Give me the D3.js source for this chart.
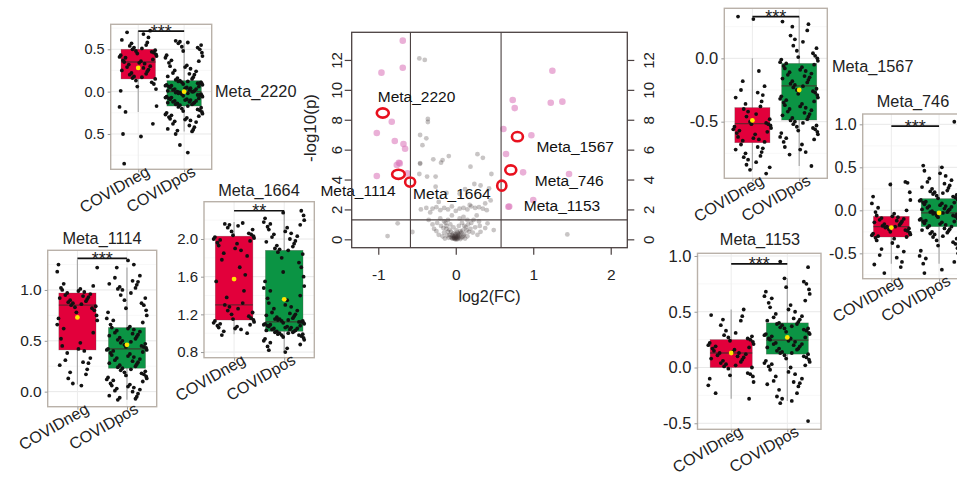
<!DOCTYPE html>
<html><head><meta charset="utf-8">
<script src="https://cdn.jsdelivr.net/npm/d3@7"></script>
<style>body{margin:0;background:#fff}svg{display:block;font-family:"Liberation Sans",Arial,sans-serif}</style>
</head><body><svg id="c" width="957" height="477"></svg>
<script>
// ---------------- DATA ----------------
const groups = ["COVIDneg", "COVIDpos"];
const metabolites = ["Meta_2220", "Meta_1114", "Meta_1664", "Meta_1567", "Meta_746", "Meta_1153"];
const stars = ["***", "***", "**", "***", "***", "***"];
// box statistics per metabolite
const q1Neg   = [0.15, 0.41, 1.14, -0.666, -0.31, 0.00];
const medNeg  = [0.35, 0.85, 1.30, -0.516, -0.19, 0.13];
const q3Neg   = [0.50, 0.97, 2.03, -0.389, -0.07, 0.25];
const loNeg   = [-0.24, 0.07, 0.99, -0.88, -0.62, -0.28];
const hiNeg   = [0.72, 1.30, 2.18, 0.00, 0.33, 0.52];
const meanNeg = [0.28, 0.73, 1.575, -0.49, -0.20, 0.13];
const q1Pos   = [-0.17, 0.23, 1.02, -0.487, -0.19, 0.12];
const medPos  = [0.00, 0.42, 1.12, -0.218, -0.03, 0.246];
const q3Pos   = [0.13, 0.63, 1.88, -0.04, 0.136, 0.40];
const loPos   = [-0.47, -0.08, 0.80, -0.85, -0.62, -0.30];
const hiPos   = [0.57, 1.22, 2.30, 0.33, 0.52, 0.80];
const meanPos = [0.00, 0.46, 1.36, -0.25, -0.03, 0.27];
const sigY    = [0.715, 1.31, 2.30, 0.33, 0.98, 0.93];
const tickVals = [[0.5, 0, -0.5], [1, 0.5, 0], [2.0, 1.6, 1.2, 0.8], [0, -0.5], [1, 0.5, 0, -0.5], [1, 0.5, 0, -0.5]];
const tickLabels = [["0.5", "0.0", "0.5"], ["1.0", "0.5", "0.0"], ["2.0", "1.6", "1.2", "0.8"], ["0.0", "-0.5"], ["1.0", "0.5", "0.0", "-0.5"], ["1.0", "0.5", "0.0", "-0.5"]];

// individual sample values (jittered points)
const neg2220 = [0.72,0.70,0.68,0.64,0.61,0.58,0.57,0.55,0.54,0.52,0.51,0.50,0.49,0.48,0.47,0.46,0.45,0.44,0.43,0.42,0.41,0.40,0.38,0.37,0.36,0.35,0.34,0.33,0.32,0.30,0.29,0.28,0.26,0.25,0.24,0.22,0.21,0.20,0.18,0.17,0.16,0.15,0.13,0.11,0.09,0.06,0.03,0.01,-0.17,-0.18,-0.24,-0.38,-0.50,-0.53,-0.85];
const pos2220 = [0.60,0.59,0.58,0.57,0.55,0.53,0.52,0.50,0.48,0.46,0.43,0.42,0.40,0.37,0.36,0.34,0.31,0.30,0.29,0.27,0.25,0.24,0.22,0.21,0.20,0.18,0.17,0.16,0.15,0.14,
 0.13,0.12,0.12,0.11,0.11,0.10,0.10,0.09,0.09,0.08,0.08,0.07,0.07,0.06,0.06,0.05,0.05,0.04,0.04,0.03,0.03,0.02,0.02,0.01,0.01,0.00,0.00,0.00,-0.01,-0.01,-0.02,-0.02,-0.03,-0.03,-0.04,-0.04,-0.05,-0.05,-0.06,-0.06,-0.07,-0.07,-0.08,-0.08,-0.09,-0.09,-0.10,-0.10,-0.11,-0.11,-0.12,-0.12,-0.13,-0.13,-0.14,-0.14,-0.15,-0.15,-0.16,-0.17,
 -0.18,-0.19,-0.20,-0.21,-0.22,-0.23,-0.24,-0.25,-0.26,-0.27,-0.28,-0.29,-0.30,-0.31,-0.32,-0.33,-0.34,-0.35,-0.36,-0.38,-0.40,-0.42,-0.44,-0.45,-0.46,-0.47,-0.50,-0.63,-0.72];
const neg1114 = [1.25,1.22,1.18,1.06,1.04,1.02,1.01,1.00,0.99,0.98,0.97,0.96,0.95,0.94,0.93,0.92,0.91,0.90,0.89,0.88,0.87,0.86,0.85,0.84,0.83,0.82,0.80,0.78,0.75,0.72,0.70,0.66,0.62,0.58,0.52,0.48,0.45,0.42,0.40,0.38,0.33,0.31,0.29,0.28,0.26,0.22,0.19,0.17,0.13,0.08,0.06];
const pos1114 = [1.29,1.25,1.22,1.14,1.12,1.09,1.08,1.06,1.05,1.03,1.02,1.01,1.00,0.97,0.95,0.92,0.90,0.87,0.85,0.82,0.80,0.78,0.75,0.72,0.70,0.68,0.66,0.64,
 0.63,0.62,0.61,0.60,0.59,0.58,0.57,0.56,0.55,0.54,0.53,0.52,0.51,0.50,0.49,0.48,0.47,0.46,0.45,0.44,0.44,0.43,0.42,0.41,0.41,0.40,0.39,0.38,0.37,0.36,0.35,0.34,0.33,0.32,0.31,0.30,0.29,0.28,0.27,0.26,0.25,0.24,0.23,
 0.22,0.21,0.20,0.19,0.18,0.17,0.16,0.15,0.14,0.13,0.12,0.11,0.10,0.08,0.07,0.06,0.05,0.04,0.03,0.02,0.01,0.00,-0.02,-0.04,-0.05,-0.06,-0.07,-0.08];
const neg1664 = [2.17,2.16,2.15,2.14,2.12,2.10,2.08,2.06,2.05,2.04,2.03,2.02,2.01,2.00,1.99,1.98,1.96,1.95,1.93,1.90,1.88,1.85,1.82,1.78,1.70,1.62,1.55,1.45,1.38,1.32,1.30,1.28,1.26,1.24,1.22,1.20,1.18,1.16,1.15,1.14,1.13,1.12,1.11,1.10,1.09,1.08,1.07,1.06,1.05,1.04,1.02,1.00,0.98];
const pos1664 = [2.30,2.28,2.25,2.22,2.20,2.18,2.16,2.15,2.13,2.12,2.10,2.08,2.06,2.05,2.03,2.02,2.00,1.98,1.97,1.95,1.93,1.92,1.90,1.89,1.88,1.86,1.84,1.80,1.75,1.70,1.65,1.60,1.55,1.50,1.48,1.45,1.40,1.37,1.35,1.32,1.30,1.28,1.26,1.24,1.22,1.21,1.20,1.19,1.18,1.17,1.16,1.15,1.15,1.14,1.14,1.13,1.13,1.12,1.12,1.11,1.11,1.10,1.10,1.09,1.09,1.08,1.08,1.07,1.07,1.06,1.06,1.05,1.05,1.04,1.04,1.03,1.03,1.02,1.02,1.01,1.01,1.00,1.00,0.99,0.99,0.98,0.98,0.97,0.96,0.95,0.94,0.93,0.92,0.90,0.88,0.86,0.84,0.82,0.80];
const neg1567 = [0.33,0.31,-0.10,-0.18,-0.22,-0.25,-0.27,-0.29,-0.31,-0.34,-0.36,-0.38,-0.40,-0.42,-0.44,-0.46,-0.48,-0.50,-0.51,-0.52,-0.52,-0.53,-0.54,-0.55,-0.56,-0.57,-0.58,-0.59,-0.60,-0.62,-0.63,-0.64,-0.65,-0.66,-0.68,-0.70,-0.71,-0.72,-0.74,-0.75,-0.77,-0.78,-0.80,-0.82,-0.84,-0.86,-0.88,-0.91];
const pos1567 = [0.29,0.27,0.25,0.22,0.18,0.15,0.13,0.10,0.08,0.06,0.04,0.02,0.01,0.00,-0.01,-0.02,-0.03,-0.04,-0.05,-0.06,-0.07,-0.08,-0.09,-0.10,-0.11,-0.12,-0.13,-0.14,-0.15,-0.16,-0.17,-0.18,-0.19,-0.20,-0.21,-0.22,-0.23,-0.24,-0.25,-0.26,-0.27,-0.28,-0.29,-0.30,-0.31,-0.32,-0.33,-0.34,-0.35,-0.36,-0.37,-0.38,-0.39,-0.40,-0.41,-0.42,-0.43,-0.44,-0.45,-0.46,-0.47,-0.48,-0.49,-0.50,-0.51,-0.52,-0.53,-0.54,-0.55,-0.56,-0.57,-0.58,-0.59,-0.60,-0.62,-0.63,-0.64,-0.66,-0.68,-0.70,-0.72,-0.74,-0.76,-0.85];
const neg746 = [0.33,0.32,0.30,0.21,0.16,0.12,0.08,0.03,0.00,-0.02,-0.04,-0.06,-0.07,-0.08,-0.09,-0.10,-0.11,-0.12,-0.13,-0.14,-0.15,-0.16,-0.17,-0.18,-0.19,-0.19,-0.20,-0.21,-0.22,-0.23,-0.24,-0.25,-0.26,-0.27,-0.28,-0.29,-0.30,-0.31,-0.32,-0.33,-0.35,-0.38,-0.42,-0.45,-0.48,-0.52,-0.55,-0.60,-0.63,-0.66,-0.73];
const pos746 = [1.03,0.52,0.50,0.46,0.43,0.40,0.37,0.35,0.33,0.31,0.29,0.27,0.26,0.25,0.23,0.22,0.21,0.20,0.19,0.18,0.17,0.16,0.15,0.14,
 0.13,0.12,0.12,0.11,0.10,0.09,0.09,0.08,0.07,0.06,0.05,0.05,0.04,0.03,0.02,0.01,0.01,0.00,-0.01,-0.02,-0.02,-0.03,-0.03,-0.04,-0.05,-0.06,-0.06,-0.07,-0.08,-0.09,-0.10,-0.10,-0.11,-0.12,-0.13,-0.13,-0.14,-0.15,-0.16,-0.17,-0.18,-0.19,
 -0.20,-0.21,-0.22,-0.23,-0.24,-0.25,-0.26,-0.27,-0.28,-0.30,-0.31,-0.33,-0.35,-0.37,-0.39,-0.41,-0.44,-0.47,-0.50,-0.53,-0.56,-0.60,-0.62,-0.69,-0.73];
const neg1153 = [0.52,0.47,0.46,0.43,0.42,0.38,0.33,0.31,0.29,0.28,0.27,0.26,0.25,0.24,0.23,0.22,0.21,0.20,0.19,0.18,0.17,0.16,0.15,0.14,0.13,0.13,0.12,0.11,0.10,0.09,0.08,0.07,0.06,0.05,0.04,0.03,0.02,0.01,0.00,-0.01,-0.05,-0.06,-0.07,-0.08,-0.10,-0.13,-0.16,-0.23,-0.28];
const pos1153 = [0.95,0.90,0.80,0.77,0.75,0.72,0.70,0.68,0.66,0.64,0.62,0.60,0.58,0.56,0.54,0.52,0.50,0.48,0.46,0.45,0.44,0.43,0.42,0.41,
 0.40,0.39,0.39,0.38,0.37,0.36,0.35,0.35,0.34,0.33,0.32,0.31,0.30,0.30,0.29,0.28,0.27,0.26,0.26,0.25,0.24,0.23,0.22,0.21,0.21,0.20,0.19,0.18,0.17,0.17,0.16,0.15,0.14,0.13,0.13,0.12,
 0.11,0.10,0.09,0.08,0.07,0.06,0.05,0.04,0.03,0.02,0.01,0.00,-0.02,-0.04,-0.06,-0.08,-0.10,-0.12,-0.13,-0.14,-0.15,-0.17,-0.20,-0.23,-0.26,-0.28,-0.30,-0.32,-0.48];
const negValues = [neg2220, neg1114, neg1664, neg1567, neg746, neg1153];
const posValues = [pos2220, pos1114, pos1664, pos1567, pos746, pos1153];

// volcano plot: [log2(FC), -log10(p)]
const volcanoXTicks = [-1, 0, 1, 2];
const volcanoYTicks = [0, 2, 4, 6, 8, 10, 12];
const fcCut = [-0.585, 0.585];
const pCut = 1.3;
const sigPoints = [[-0.684,13.29],[-0.959,11.15],[-0.684,11.48],[-0.826,7.87],[-1.019,7.11],[-0.787,6.58],[-0.675,6.38],[-0.654,6.06],[-0.723,5.08],[-0.735,5.12],[-0.761,4.97],[-1.019,4.24],[-0.624,4.41],
 [1.247,11.28],[0.735,9.32],[0.761,8.78],[1.226,9.14],[1.376,9.21],[0.615,7.38],[0.976,6.96],[0.649,5.71],[0.869,4.48],[1.462,4.37],[0.680,2.18],[0.690,2.20],[1.0,2.63]];
const grayPoints = [[-0.47,12.1],[-0.40,12.0],[-0.36,8.05],[-0.36,7.85],[-0.46,6.98],[-0.38,6.76],[-0.43,6.3],[-0.46,5.1],[-0.46,5.05],[-0.29,5.35],[-0.17,5.3],[-0.09,5.57],[-0.19,5.13],[0.28,5.7],[0.35,5.45],[0.19,4.86],[-0.37,4.2],[-0.26,4.2],[-0.47,4.37],[0.46,4.37],[-0.26,3.52],[0.24,3.7],[0.32,3.6],[0.43,3.4],[0.12,3.35],[-0.12,3.1],[0.05,3.05],
 [-0.45,2.0],[-0.38,2.1],[-0.30,2.05],[-0.25,2.15],[-0.2,1.95],[-0.15,2.1],[-0.1,2.0],[-0.05,2.2],[0.0,1.9],[0.05,2.05],[0.1,2.1],[0.15,2.0],[0.2,2.2],[0.25,2.1],[0.3,2.15],[0.35,2.05],[0.4,1.95],[0.18,2.3],[-0.33,1.8],[0.45,2.6],[0.38,2.4],[-0.22,2.5],
 [-0.75,1.07],[-0.88,0.22],[-0.56,0.49],[1.44,0.33],[0.49,0.62],[0.41,1.07],[-0.35,1.3],[-0.3,1.0],[-0.28,0.7],[-0.2,1.4],[-0.15,1.2],[-0.12,0.9],[0.15,1.3],[0.2,1.1],[0.25,0.8],[0.3,1.2],[0.32,0.5],[0.28,0.3],[-0.22,0.3],[-0.25,0.55],[0.38,0.75],[0.1,1.5],[-0.05,1.6],[0.05,1.4],[-0.1,1.3],
 [-0.1,0.5],[-0.08,0.3],[-0.06,0.15],[-0.04,0.05],[-0.02,0.2],[0.0,0.1],[0.02,0.0],[0.03,0.25],[0.05,0.4],[0.07,0.12],[0.09,0.6],[0.11,0.35],[-0.12,0.7],[-0.15,0.45],[-0.17,0.2],[0.13,0.8],[0.15,0.2],[0.17,0.5],[-0.03,0.8],[0.01,0.6],[0.04,0.9],[-0.07,1.0],[0.08,1.1],[0.12,0.05],[-0.14,0.05],[0.19,0.7],[0.22,0.45],[-0.19,0.9],[0.0,0.35],[0.02,0.45],[-0.01,0.02],[-0.03,0.1],[0.06,0.02],[0.0,0.2],[-0.05,0.3],[0.04,0.15],[0.1,0.25],[-0.09,0.1],[0.14,0.6],[-0.11,0.25],
 [-0.02,0.05],[0.01,0.12],[-0.04,0.22],[0.03,0.08],[-0.01,0.3],[0.02,0.18],[-0.03,0.4],[0.05,0.28],[-0.06,0.5],[0.07,0.45],[0.0,0.0],[-0.02,0.12],[0.01,0.04],[0.03,0.35],[-0.05,0.08],[0.06,0.55],[-0.08,0.65],[0.09,0.15],[0.11,0.9],[-0.13,1.1],[0.16,1.0],[-0.16,0.75],[0.23,1.3],[0.27,1.6],[-0.24,1.1],[0.31,0.9]];
const highlightNames = ["Meta_2220", "Meta_1114", "Meta_1664", "Meta_1567", "Meta_746", "Meta_1153"];
const highlightX = [-0.942, -0.740, -0.589, 0.796, 0.710, 0.594];
const highlightY = [8.45, 4.35, 3.83, 6.87, 4.64, 3.59];

// ---------------- LAYOUT (pixels / styles) ----------------
const W = 957, H = 477;
const panels = [
  {x0:110.7, x1:211.7, y0:24.3, y1:169.3, dom:[-0.917,0.795], fs:14.5, title:"right", tx:215, ty:97},
  {x0:47.7, x1:156.7, y0:250.3, y1:406.7, dom:[-0.148,1.39], fs:15.5, title:"top", tx:102, ty:244},
  {x0:204, x1:314.3, y0:201.7, y1:357.7, dom:[0.74,2.396], fs:15, title:"top", tx:259, ty:196},
  {x0:724.3, x1:827.3, y0:8.3, y1:178.3, dom:[-0.947,0.395], fs:16.5, title:"right", tx:832, ty:72},
  {x0:862.7, x1:967.7, y0:114, y1:278.7, dom:[-0.795,1.12], fs:16, title:"top", tx:913, ty:107},
  {x0:697.5, x1:821, y0:253.3, y1:429.3, dom:[-0.554,1.024], fs:16.5, title:"top", tx:760, ty:245}
];
const jit = [0.62,-0.35,0.88,-0.91,0.14,-0.58,0.41,-0.12,0.95,-0.73,0.27,-0.44,0.7,-0.97,0.05,0.53,-0.22,0.81,-0.66,0.33,-0.85,0.19,-0.05,0.76,-0.49,0.47,-0.3,0.92,-0.79];
const boxFill = ["#e2003b", "#0b9444"];
const volc = {x0:351.7, x1:627.3, y0:32.3, y1:247.7, xdom:[-1.343,2.214], ydom:[-0.56,13.85]};
const labelOffsets = [[-5,-11],[-78,22],[3,17],[19,15],[24,16],[22,25]];
const ringSize = [[6,4.6],[6.3,4.6],[5,4.6],[5.5,4.6],[5.5,4.6],[4.6,5]];

const svg = d3.select("#c");
svg.append("rect").attr("width", W).attr("height", H).attr("fill", "#fff");

function drawPanel(i) {
  const L = panels[i];
  const g = svg.append("g");
  const y = d3.scaleLinear().domain(L.dom).range([L.y1, L.y0]);
  const x = d3.scalePoint().domain(groups).range([L.x0, L.x1]).padding(0.6);
  const step = x.step(), bw = step * 0.75;
  // grid
  const tv = tickVals[i];
  const minor = [];
  const sorted = tv.slice().sort((a, b) => a - b);
  const dt = sorted[1] - sorted[0];
  for (let v = sorted[0] - dt / 2; v <= L.dom[1]; v += dt) if (v >= L.dom[0]) minor.push(v);
  g.selectAll(".mn").data(minor).join("line").attr("x1", L.x0).attr("x2", L.x1)
    .attr("y1", d => y(d)).attr("y2", d => y(d)).attr("stroke", "#f3f3f3").attr("stroke-width", 0.6);
  g.selectAll(".mj").data(tv).join("line").attr("x1", L.x0).attr("x2", L.x1)
    .attr("y1", d => y(d)).attr("y2", d => y(d)).attr("stroke", "#e8e8e8").attr("stroke-width", 1);
  g.selectAll(".vg").data(groups).join("line").attr("x1", d => x(d)).attr("x2", d => x(d))
    .attr("y1", L.y0).attr("y2", L.y1).attr("stroke", "#ececec").attr("stroke-width", 1);
  // stats
  const st = [
    {g: groups[0], q1: q1Neg[i], med: medNeg[i], q3: q3Neg[i], lo: loNeg[i], hi: hiNeg[i], mean: meanNeg[i], vals: negValues[i], c: boxFill[0]},
    {g: groups[1], q1: q1Pos[i], med: medPos[i], q3: q3Pos[i], lo: loPos[i], hi: hiPos[i], mean: meanPos[i], vals: posValues[i], c: boxFill[1]}
  ];
  st.forEach((s, k) => {
    const cx = x(s.g);
    g.append("line").attr("x1", cx).attr("x2", cx).attr("y1", y(s.hi)).attr("y2", y(s.lo))
      .attr("stroke", "#a8a8a8").attr("stroke-width", 1.2);
    g.append("rect").attr("x", cx - bw / 2).attr("width", bw).attr("y", y(s.q3)).attr("height", y(s.q1) - y(s.q3))
      .attr("fill", s.c).attr("stroke", "rgba(90,70,70,0.45)").attr("stroke-width", 0.6);
    g.append("line").attr("x1", cx - bw / 2).attr("x2", cx + bw / 2).attr("y1", y(s.med)).attr("y2", y(s.med))
      .attr("stroke", "rgba(70,40,40,0.75)").attr("stroke-width", 1.3);
  });
  st.forEach((s, k) => {
    const cx = x(s.g);
    g.selectAll(null).data(s.vals).join("circle")
      .attr("cx", (d, j) => cx + jit[(j * 5 + i * 3 + k * 11) % jit.length] * 0.42 * step)
      .attr("cy", d => y(d)).attr("r", 1.9).attr("fill", "#111");
  });
  st.forEach(s => {
    g.append("circle").attr("cx", x(s.g)).attr("cy", y(s.mean)).attr("r", 2.4).attr("fill", "#ffe600");
  });
  // significance bar
  g.append("line").attr("x1", x(groups[0])).attr("x2", x(groups[1])).attr("y1", y(sigY[i])).attr("y2", y(sigY[i]))
    .attr("stroke", "#111").attr("stroke-width", 1.7);
  g.append("text").attr("x", (x(groups[0]) + x(groups[1])) / 2).attr("y", y(sigY[i]) + 6.5)
    .attr("text-anchor", "middle").attr("font-size", 18).attr("fill", "#222").text(stars[i]);
  // frame
  g.append("rect").attr("x", L.x0).attr("y", L.y0).attr("width", L.x1 - L.x0).attr("height", L.y1 - L.y0)
    .attr("fill", "none").attr("stroke", "#b9b1a9").attr("stroke-width", 1.4);
  // axes
  const ya = g.append("g").attr("transform", `translate(${L.x0},0)`)
    .call(d3.axisLeft(y).tickValues(tv).tickFormat((d, k) => tickLabels[i][k]).tickSize(3).tickPadding(3));
  ya.select(".domain").remove();
  ya.selectAll("line").attr("stroke", "#999");
  ya.selectAll("text").attr("font-size", L.fs).attr("fill", "#222").attr("font-family", "Liberation Sans, Arial, sans-serif");
  const xa = g.append("g").attr("transform", `translate(0,${L.y1})`)
    .call(d3.axisBottom(x).tickSize(3).tickPadding(3));
  xa.select(".domain").remove();
  xa.selectAll("line").attr("stroke", "#999");
  xa.selectAll("text").attr("y", 0).attr("dy", "0.75em").attr("text-anchor", "end")
    .attr("transform", "translate(6,-5) rotate(-30)")
    .attr("font-size", 16).attr("fill", "#222").attr("font-family", "Liberation Sans, Arial, sans-serif");
  // title
  g.append("text").attr("x", L.tx).attr("y", L.ty).attr("text-anchor", L.title === "top" ? "middle" : "start")
    .attr("font-size", 16.3).attr("fill", "#222").text(metabolites[i]);
}
panels.forEach((p, i) => drawPanel(i));

// ---------------- VOLCANO ----------------
(function () {
  const v = volc;
  const g = svg.append("g");
  const x = d3.scaleLinear().domain(v.xdom).range([v.x0, v.x1]);
  const y = d3.scaleLinear().domain(v.ydom).range([v.y1, v.y0]);
  g.selectAll(".gp").data(grayPoints).join("circle").attr("cx", d => x(d[0])).attr("cy", d => y(d[1]))
    .attr("r", 2.4).attr("fill", "#3a3030").attr("fill-opacity", 0.28);
  g.selectAll(".sp").data(sigPoints).join("circle").attr("cx", d => x(d[0])).attr("cy", d => y(d[1]))
    .attr("r", 3.3).attr("fill", "#dc7cbd").attr("fill-opacity", 0.6);
  fcCut.forEach(c => g.append("line").attr("x1", x(c)).attr("x2", x(c)).attr("y1", v.y0).attr("y2", v.y1)
    .attr("stroke", "#4a4040").attr("stroke-width", 1.1));
  g.append("line").attr("x1", v.x0).attr("x2", v.x1).attr("y1", y(pCut)).attr("y2", y(pCut))
    .attr("stroke", "#4a4040").attr("stroke-width", 1.1);
  // highlighted rings + labels
  highlightNames.forEach((n, k) => {
    const px = x(highlightX[k]), py = y(highlightY[k]);
    g.append("ellipse").attr("cx", px).attr("cy", py).attr("rx", ringSize[k][0]).attr("ry", ringSize[k][1])
      .attr("fill", "none").attr("stroke", "#e8101e").attr("stroke-width", 2.6);
    g.append("text").attr("x", px + labelOffsets[k][0]).attr("y", py + labelOffsets[k][1])
      .attr("font-size", 15.5).attr("fill", "#111").text(n);
  });
  g.append("rect").attr("x", v.x0).attr("y", v.y0).attr("width", v.x1 - v.x0).attr("height", v.y1 - v.y0)
    .attr("fill", "none").attr("stroke", "#4a4040").attr("stroke-width", 1.3);
  // bottom axis
  const xa = g.append("g").attr("transform", `translate(0,${v.y1})`)
    .call(d3.axisBottom(x).tickValues(volcanoXTicks).tickFormat(d3.format("d")).tickSize(7).tickPadding(14));
  xa.select(".domain").remove();
  xa.selectAll("line").attr("stroke", "#4a4040").attr("stroke-width", 1.2);
  xa.selectAll("text").attr("font-size", 15.5).attr("fill", "#222").attr("font-family", "Liberation Sans, Arial, sans-serif")
    .text(d => d < 0 ? "-" + Math.abs(d) : d);
  // left axis
  const yl = g.append("g").attr("transform", `translate(${v.x0},0)`)
    .call(d3.axisLeft(y).tickValues(volcanoYTicks).tickSize(7));
  yl.select(".domain").remove();
  yl.selectAll("line").attr("stroke", "#4a4040").attr("stroke-width", 1.2);
  yl.selectAll("text").attr("x", 0).attr("y", 0).attr("dy", 0).attr("text-anchor", "middle")
    .attr("transform", "translate(-10,0) rotate(-90)")
    .attr("font-size", 15).attr("fill", "#222").attr("font-family", "Liberation Sans, Arial, sans-serif");
  // right axis
  const yr = g.append("g").attr("transform", `translate(${v.x1},0)`)
    .call(d3.axisRight(y).tickValues(volcanoYTicks).tickSize(7));
  yr.select(".domain").remove();
  yr.selectAll("line").attr("stroke", "#4a4040").attr("stroke-width", 1.2);
  yr.selectAll("text").attr("x", 0).attr("y", 0).attr("dy", 0).attr("text-anchor", "middle")
    .attr("transform", "translate(26.5,0) rotate(-90)")
    .attr("font-size", 15).attr("fill", "#222").attr("font-family", "Liberation Sans, Arial, sans-serif");
  g.append("text").attr("x", (v.x0 + v.x1) / 2).attr("y", 301.5).attr("text-anchor", "middle")
    .attr("font-size", 16).attr("fill", "#222").text("log2(FC)");
  g.append("text").attr("transform", "translate(316,128) rotate(-90)").attr("text-anchor", "middle")
    .attr("font-size", 17).attr("fill", "#222").text("-log10(p)");
})();
</script></body></html>
